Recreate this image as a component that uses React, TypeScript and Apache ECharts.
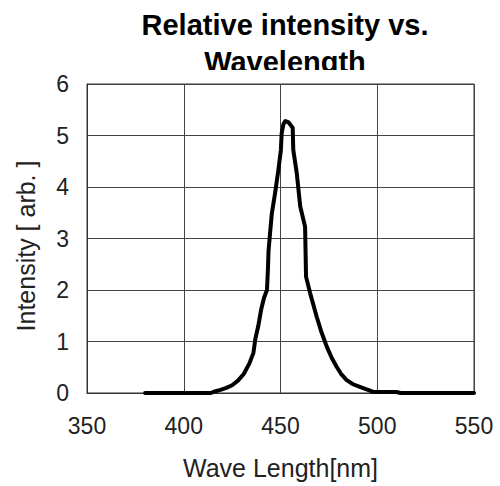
import React, { useEffect, useRef } from "react";
import * as echarts from "echarts";

const titleText = "Relative intensity vs.\nWavelength";
const xName = "Wave Length[nm]";
const yName = "Intensity [ arb. ]";
const xTicks = [350, 400, 450, 500, 550];
const yTicks = [0, 1, 2, 3, 4, 5, 6];

const wavelengths = [
  380, 414, 416, 419, 422, 425, 428, 431, 434, 436, 437, 438.5, 440, 441.5, 443,
  443.5, 443.8, 444.6, 445.5, 447.2, 448.9, 450.2, 450.6, 451.5, 452.5, 454,
  456.3, 456.6, 458.4, 460.2, 462.7, 463.2, 465.3, 468.7, 471, 473.9, 476.5, 479,
  481.5, 484.2, 487.5, 491, 494.5, 498, 510, 512, 550,
];
const intensities = [
  0, 0, 0.03, 0.06, 0.1, 0.15, 0.24, 0.37, 0.58, 0.78, 1.05, 1.3, 1.62, 1.85, 2.0,
  2.4, 2.75, 3.1, 3.48, 3.88, 4.33, 4.72, 5.04, 5.22, 5.28, 5.26, 5.15, 4.72,
  4.27, 3.62, 3.23, 2.26, 1.94, 1.48, 1.2, 0.9, 0.68, 0.51, 0.36, 0.25, 0.17,
  0.12, 0.07, 0.02, 0.02, 0, 0,
];

export default function App() {
  const ref = useRef<HTMLDivElement>(null);
  useEffect(() => {
    document.body.style.margin = "0";
    const chart = echarts.init(ref.current!, null, { renderer: "svg" });
    const font = "'Liberation Sans', Arial, sans-serif";
    chart.setOption({
      animation: false,
      backgroundColor: "#fff",
      title: {
        text: titleText,
        left: 280,
        top: 1,
        textAlign: "center",
        textStyle: {
          fontFamily: font,
          fontWeight: "bold",
          fontSize: 29,
          lineHeight: 37,
          color: "#000",
        },
      },
      graphic: [
        {
          type: "rect",
          z: 100,
          shape: { x: 100, y: 70, width: 360, height: 12 },
          style: { fill: "#fff" },
        },
      ],
      grid: {
        left: 87,
        right: 26,
        top: 84,
        bottom: 93,
        show: true,
        borderColor: "#333",
        borderWidth: 1,
      },
      xAxis: {
        type: "value",
        min: xTicks[0],
        max: xTicks[xTicks.length - 1],
        interval: 50,
        name: xName,
        nameLocation: "middle",
        nameGap: 62,
        nameTextStyle: { fontFamily: font, fontSize: 25, color: "#222" },
        axisLine: { show: true, lineStyle: { color: "#333", width: 1 } },
        axisTick: { show: false },
        axisLabel: { margin: 21, fontFamily: font, fontSize: 23, color: "#222" },
        splitLine: { show: true, lineStyle: { color: "#444", width: 1 } },
      },
      yAxis: {
        type: "value",
        min: yTicks[0],
        max: yTicks[yTicks.length - 1],
        interval: 1,
        name: yName,
        nameLocation: "middle",
        nameGap: 49,
        nameTextStyle: {
          fontFamily: font,
          fontSize: 25,
          color: "#222",
          padding: [0, 15, 0, 0],
        },
        axisLine: { show: true, lineStyle: { color: "#333", width: 1 } },
        axisTick: { show: false },
        axisLabel: { margin: 18, fontFamily: font, fontSize: 23, color: "#222" },
        splitLine: { show: true, lineStyle: { color: "#444", width: 1 } },
      },
      series: [
        {
          type: "line",
          data: wavelengths.map((w, i) => [w, intensities[i]]),
          showSymbol: false,
          symbol: "none",
          lineStyle: { color: "#000", width: 4, join: "round", cap: "round" },
          z: 5,
        },
      ],
    });
    return () => chart.dispose();
  }, []);
  return <div ref={ref} style={{ width: 500, height: 486 }} />;
}
